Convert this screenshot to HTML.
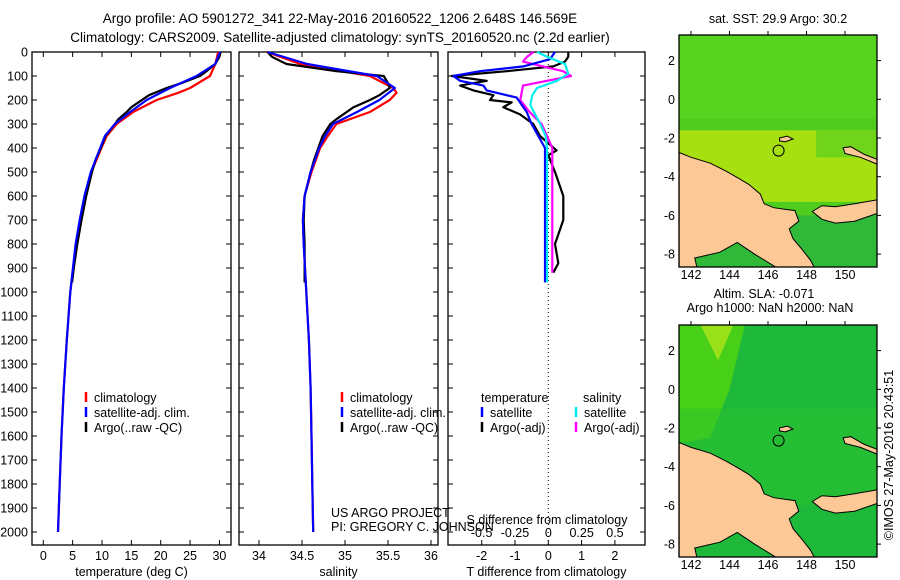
<!DOCTYPE html>
<html><head><meta charset="utf-8"><style>
body{margin:0;background:#fff;}
svg{display:block;font-family:"Liberation Sans",sans-serif;}
</style></head><body>
<svg id="fig" width="900" height="580" viewBox="0 0 900 580">
<text x="340" y="23" font-size="13.5" text-anchor="middle">Argo profile: AO 5901272_341 22-May-2016 20160522_1206 2.648S 146.569E</text>
<text x="340" y="42" font-size="13.5" text-anchor="middle">Climatology: CARS2009. Satellite-adjusted climatology: synTS_20160520.nc (2.2d earlier)</text>
<g id="p1"></g>
<g id="p2"></g>
<g id="p3"></g>
<g id="m1"></g>
<g id="m2"></g>
<text transform="translate(893,455) rotate(-90)" font-size="12.5" text-anchor="middle">©IMOS 27-May-2016 20:43:51</text>
</svg>
<script>
// depth grids
const depthsClim = [0,50,100,150,170,200,250,300,350,400,500,600,700,800,1000,1200,1400,1600,1800,2000];
const tempClim = [29.8,29.3,28.4,25,23,19.3,15.3,12.5,10.8,9.9,8.2,7.1,6.25,5.6,4.6,4.0,3.5,3.1,2.8,2.5];
const depthsSat = [0,50,100,150,200,250,300,350,400,500,600,700,800,1000,1200,1400,1600,1800,2000];
const tempSat = [30.1,29.3,26.1,21.6,17.6,14.8,12.2,10.5,9.7,8.1,7.0,6.2,5.5,4.6,4.0,3.5,3.1,2.8,2.5];
const depthsArgo = [0,20,50,80,100,130,150,180,200,230,250,280,300,350,400,450,500,600,700,800,900,960];
const tempArgo = [30.2,30.0,29.3,27.8,26.7,23.5,21,18.0,16.8,15.0,14.2,12.8,12.2,10.6,9.8,8.9,8.3,7.3,6.5,5.8,5.2,4.9];
const salClim = [34.09,34.48,35.29,35.56,35.6,35.52,35.29,34.9,34.8,34.71,34.61,34.53,34.51,34.52,34.55,34.58,34.6,34.61,34.62,34.63];
const salSat = [34.1,34.56,35.37,35.58,35.4,35.14,34.86,34.77,34.7,34.6,34.53,34.51,34.52,34.55,34.58,34.6,34.61,34.62,34.63];
const salArgo = [34.1,34.15,34.32,34.9,35.45,35.5,35.52,35.4,35.29,35.1,35.02,34.9,34.83,34.74,34.69,34.64,34.6,34.53,34.52,34.53,34.53,34.53];
// difference profiles
const depthsDiffT = [0,30,60,80,100,120,140,160,190,210,250,300,350,400,500,700,960];
const diffTSat = [0.2,0.05,-0.75,-2.05,-2.85,-2.65,-1.95,-1.85,-0.95,-0.85,-0.65,-0.5,-0.3,-0.1,-0.1,-0.1,-0.1];
const depthsDiffTArgo = [0,20,40,60,80,100,120,140,160,180,200,210,230,260,300,350,410,430,500,600,700,800,880,920];
const diffTArgo = [0.6,0.6,0.5,0.15,-1.25,-2.9,-1.85,-2.65,-2.25,-1.65,-1.75,-1.1,-1.35,-0.85,-0.45,-0.25,0.25,0,0.2,0.45,0.45,0.2,0.3,0.15];
const depthsDiffS = [0,20,50,90,120,150,180,220,260,300,350,400,500,960];
const diffSSat = [-0.085,-0.01,0.125,0.15,0.065,-0.085,-0.12,-0.135,-0.1,-0.06,-0.02,-0.01,-0.01,-0.01];
const depthsDiffSArgo = [0,20,40,60,80,100,120,140,170,200,250,300,350,400,600,920];
const diffSArgo = [-0.11,-0.16,-0.19,-0.04,0.11,0.17,-0.01,-0.19,-0.2,-0.21,-0.14,-0.05,-0.01,0.03,0.03,0.03];
const depthTicks = [0,100,200,300,400,500,600,700,800,900,1000,1100,1200,1300,1400,1500,1600,1700,1800,1900,2000];
const tempTicks = [0,5,10,15,20,25,30];
const salTicks = [34,34.5,35,35.5,36];
const tdiffTicks = [-2,-1,0,1,2];
const sdiffTicks = [-0.5,-0.25,0,0.25,0.5];
const sdiffTickLabels = ["-0.5","-0.25","0","0.25","0.5"];
const lonTicks = [142,144,146,148,150];
const latTicks = [2,0,-2,-4,-6,-8];

const NS="http://www.w3.org/2000/svg";
function mk(parent,tag,attrs,text){const e=document.createElementNS(NS,tag);for(const k in attrs)e.setAttribute(k,attrs[k]);if(text!==undefined)e.textContent=text;parent.appendChild(e);return e;}
const TOP=52,BOT=545;
const yD=d=>TOP+d*0.24;
function panel(g,x0,x1,xs,ticks,labels,title,name){
  const r=mk(g,'rect',{x:x0,y:TOP,width:x1-x0,height:BOT-TOP,fill:'none',stroke:'#000','stroke-width':1.3});
  
  
  ticks.forEach((t,i)=>{const x=xs(t);
    mk(g,'line',{x1:x,x2:x,y1:BOT,y2:BOT-5,stroke:'#000'});mk(g,'line',{x1:x,x2:x,y1:TOP,y2:TOP+5,stroke:'#000'});
    const tl=mk(g,'text',{x:x,y:560,'font-size':12.5,'text-anchor':'middle'},labels?labels[i]:String(t));
    
    });
  depthTicks.forEach(d=>{mk(g,'line',{x1:x0,x2:x0+5,y1:yD(d),y2:yD(d),stroke:'#000'});mk(g,'line',{x1:x1,x2:x1-5,y1:yD(d),y2:yD(d),stroke:'#000'});});
  const tt=mk(g,'text',{x:(x0+x1)/2,y:576,'font-size':12.5,'text-anchor':'middle'},title);
  
  
}
function line(g,xs,vals,deps,color,name,w){
  const pts=vals.map((v,i)=>xs(v).toFixed(1)+','+yD(deps[i]).toFixed(1)).join(' ');
  const p=mk(g,'polyline',{points:pts,fill:'none',stroke:color,'stroke-width':w||2.2,'stroke-linejoin':'round'});
  
  
}
function legend(g,x,y,color,label){
  mk(g,'line',{x1:x,x2:x,y1:y-10,y2:y,stroke:color,'stroke-width':2.5});
  const t=mk(g,'text',{x:x+8,y:y,'font-size':12.5},label);
  
  
}
// panel 1
const p1=document.getElementById('p1');
const xT=t=>43.3+5.87*t;
panel(p1,32,231,xT,tempTicks,null,'temperature (deg C)','temperature-panel');
depthTicks.forEach(d=>{const t=mk(p1,'text',{x:28,y:yD(d)+4.5,'font-size':12.5,'text-anchor':'end'},String(d));
  
  });
line(p1,xT,tempClim,depthsClim,'#f00','temp-climatology-line');
line(p1,xT,tempArgo,depthsArgo,'#000','temp-argo-line');
line(p1,xT,tempSat,depthsSat,'#00f','temp-satellite-line');
legend(p1,86,402,'#f00','climatology');legend(p1,86,417,'#00f','satellite-adj. clim.');legend(p1,86,432,'#000','Argo(..raw -QC)');
// panel 2
const p2=document.getElementById('p2');
const xS=s=>259+86*(s-34);
panel(p2,239,438,xS,salTicks,null,'salinity','salinity-panel');
line(p2,xS,salClim,depthsClim,'#f00','sal-climatology-line');
line(p2,xS,salArgo,depthsArgo,'#000','sal-argo-line');
line(p2,xS,salSat,depthsSat,'#00f','sal-satellite-line');
legend(p2,342,402,'#f00','climatology');legend(p2,342,417,'#00f','satellite-adj. clim.');legend(p2,342,432,'#000','Argo(..raw -QC)');
mk(p2,'text',{x:331,y:517,'font-size':12.5},'US ARGO PROJECT');
mk(p2,'text',{x:331,y:531,'font-size':12.5},'PI: GREGORY C. JOHNSON');
// panel 3
const p3=document.getElementById('p3');
const xdT=v=>548.3+33.3*v, xdS=v=>548.3+133.3*v;
panel(p3,448,645,xdT,tdiffTicks,null,'T difference from climatology','difference-panel');
mk(p3,'line',{x1:548.3,x2:548.3,y1:TOP,y2:BOT,stroke:'#000','stroke-dasharray':'1,3'});
sdiffTicks.forEach((s,i)=>{const t=mk(p3,'text',{x:xdS(s),y:537,'font-size':12.5,'text-anchor':'middle'},sdiffTickLabels[i]);
  
  });
mk(p3,'text',{x:547,y:524,'font-size':12.5,'text-anchor':'middle'},'S difference from climatology');
line(p3,xdT,diffTArgo,depthsDiffTArgo,'#000','tdiff-argo-line');
line(p3,xdS,diffSArgo,depthsDiffSArgo,'#f0f','sdiff-argo-line');
line(p3,xdT,diffTSat,depthsDiffT,'#00f','tdiff-satellite-line');
line(p3,xdS,diffSSat,depthsDiffS,'#0ee','sdiff-satellite-line');
mk(p3,'text',{x:481,y:402,'font-size':12.5},'temperature');mk(p3,'text',{x:583,y:402,'font-size':12.5},'salinity');
legend(p3,482,417,'#00f','satellite');legend(p3,482,432,'#000','Argo(-adj)');
legend(p3,576,417,'#0ee','satellite');legend(p3,576,432,'#f0f','Argo(-adj)');
// maps
const landMain=[[141.38,-2.75],[142,-3.0],[143,-3.3],[143.8,-3.7],[144.5,-4.1],[145,-4.4],[145.6,-4.9],[145.8,-5.4],[146.3,-5.6],[147,-5.7],[147.4,-5.75],[147.6,-6.3],[147.1,-6.7],[147.3,-7.2],[147.8,-7.8],[148.2,-8.3],[148.4,-8.67],[146.4,-8.67],[145.3,-8.0],[144.4,-7.4],[143.5,-7.9],[142.2,-8.2],[142.3,-8.67],[141.38,-8.67]];
const landNB=[[148.3,-5.8],[148.8,-5.5],[149.5,-5.55],[150.5,-5.4],[151.66,-5.2],[151.66,-5.9],[150.5,-6.3],[149.5,-6.4],[148.8,-6.2]];
const landManus=[[146.6,-2.0],[147.0,-1.9],[147.3,-2.05],[146.9,-2.2],[146.6,-2.15]];
const landNI=[[149.9,-2.5],[150.3,-2.45],[151,-2.85],[151.66,-3.1],[151.66,-3.35],[150.8,-3.0],[150,-2.8]];
function map(g,top,titles,kind){
  const L=679,R=877,W=R-L,H=232;
  const mx=lon=>691+(lon-142)*19.25, my=lat=>top+64.3-lat*19.35;
  const id='c'+kind;mk(g,'clipPath',{id:id}).appendChild(document.createElementNS(NS,'rect'));
  const cr=g.querySelector('clipPath rect');cr.setAttribute('x',L);cr.setAttribute('y',top);cr.setAttribute('width',W);cr.setAttribute('height',H);
  const c=mk(g,'g',{'clip-path':'url(#'+id+')'});
  if(kind==='sst'){
    mk(c,'rect',{x:L,y:top,width:W,height:H,fill:'#4fcc1e'});
    mk(c,'rect',{x:L,y:top,width:W,height:my(-1)-top,fill:'#5ad41f',opacity:0.8});
    mk(c,'rect',{x:L,y:my(-1.6),width:W,height:my(-5.3)-my(-1.6),fill:'#a6e010'});
    mk(c,'rect',{x:mx(148.5),y:my(-1.6),width:W,height:my(-3)-my(-1.6),fill:'#70d41a'});
    mk(c,'rect',{x:L,y:my(-6),width:W,height:top+H-my(-6),fill:'#30b838'});
  } else {
    mk(c,'rect',{x:L,y:top,width:W,height:H,fill:'#1eb83a'});
    mk(c,'polygon',{points:[[L,top],[mx(144.8),top],[mx(144),my(0)],[mx(143),my(-2.5)],[L,my(-2.8)]].map(p=>p.join(',')).join(' '),fill:'#48d018'});
    mk(c,'polygon',{points:[[mx(142.5),top],[mx(144.2),top],[mx(143.4),my(1.5)]].map(p=>p.join(',')).join(' '),fill:'#9ae018'});
    mk(c,'rect',{x:L,y:my(-1),width:W,height:my(-6)-my(-1),fill:'#2cc22c',opacity:0.5});
  }
  [landMain,landNB,landManus,landNI].forEach(poly=>{
    mk(c,'polygon',{points:poly.map(p=>mx(p[0]).toFixed(1)+','+my(p[1]).toFixed(1)).join(' '),fill:'#fcc896',stroke:'#000','stroke-width':1});
  });
  mk(c,'circle',{cx:mx(146.55),cy:my(-2.65),r:5.5,fill:'none',stroke:'#000','stroke-width':1});
  mk(g,'rect',{x:L,y:top,width:W,height:H,fill:'none',stroke:'#000','stroke-width':1.3});
  lonTicks.forEach(lon=>{const x=mx(lon);mk(g,'line',{x1:x,x2:x,y1:top,y2:top-4,stroke:'#000'});
    const t=mk(g,'text',{x:x,y:top+H+12,'font-size':12.5,'text-anchor':'middle'},String(lon));
    
    });
  latTicks.forEach(lat=>{const y=my(lat);mk(g,'line',{x1:R,x2:R+4,y1:y,y2:y,stroke:'#000'});
    const t=mk(g,'text',{x:675,y:y+4.5,'font-size':12.5,'text-anchor':'end'},String(lat));
    
    });
  titles.forEach((s,i)=>{const t=mk(g,'text',{x:titles.length>1?(i?770:764):778,y:titles.length>1?top-27+i*14:top-12,'font-size':12.5,'text-anchor':'middle'},s);
    
    });
}
map(document.getElementById('m1'),35,['sat. SST: 29.9 Argo: 30.2'],'sst');
map(document.getElementById('m2'),325,['Altim. SLA: -0.071','Argo h1000: NaN h2000: NaN'],'sla');
</script>
</body></html>
